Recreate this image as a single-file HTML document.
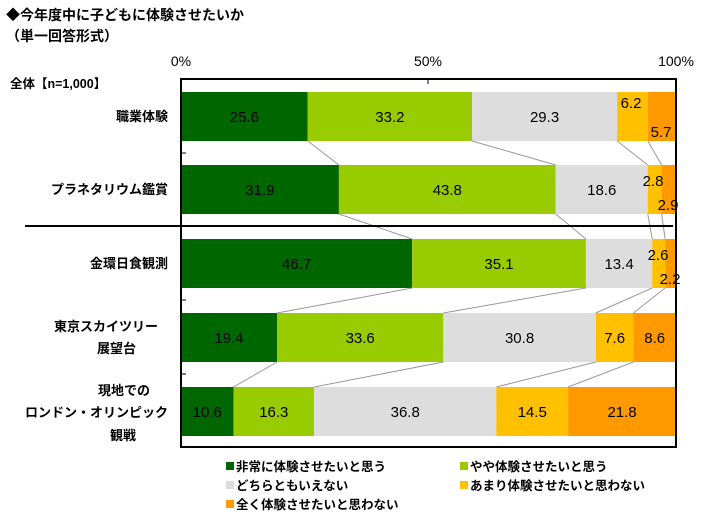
<!DOCTYPE html>
<html><head><meta charset="utf-8"><style>
body{margin:0;background:#fff;}
svg{display:block;}
text{font-family:"Liberation Sans","Noto Sans CJK JP",sans-serif;}
.t{font-size:14px;font-weight:bold;}
.v{font-size:15px;text-anchor:middle;fill:#000;}
.c{font-size:13px;font-weight:bold;text-anchor:end;}
.l{font-size:12.5px;font-weight:bold;}
</style></head><body>
<svg width="712" height="528" viewBox="0 0 712 528" xmlns="http://www.w3.org/2000/svg">
<text class="t" x="6" y="20">◆今年度中に子どもに体験させたいか</text>
<text class="t" x="6" y="41">（単一回答形式）</text>
<text x="181" y="66" font-size="14" text-anchor="middle">0%</text>
<text x="428" y="66" font-size="14" text-anchor="middle">50%</text>
<text x="676" y="66" font-size="14" text-anchor="middle">100%</text>
<text class="l" x="10" y="88" font-size="13">全体【n=1,000】</text>
<g id="bars"></g>
<rect x="181" y="79" width="495" height="368" fill="none" stroke="#000" stroke-width="2"/>
<line x1="428" y1="79" x2="428" y2="84" stroke="#000"/>
<line x1="181" y1="153" x2="186" y2="153" stroke="#000"/>
<line x1="181" y1="300" x2="186" y2="300" stroke="#000"/>
<line x1="181" y1="374" x2="186" y2="374" stroke="#000"/>
<line x1="25" y1="226" x2="673" y2="226" stroke="#000" stroke-width="2"/>
<text class="c" x="168" y="121">職業体験</text>
<text class="c" x="168" y="194">プラネタリウム鑑賞</text>
<text class="c" x="168" y="268">金環日食観測</text>
<text class="c" x="158" y="331">東京スカイツリー</text>
<text class="c" x="136" y="353">展望台</text>
<text class="c" x="150" y="395">現地での</text>
<text class="c" x="168" y="417">ロンドン・オリンピック</text>
<text class="c" x="136" y="440">観戦</text>
<rect x="226" y="462" width="8" height="8" fill="#006600"/><text class="l" x="236" y="471">非常に体験させたいと思う</text>
<rect x="460" y="462" width="8" height="8" fill="#99cc00"/><text class="l" x="470" y="471">やや体験させたいと思う</text>
<rect x="226" y="481" width="8" height="8" fill="#dddddd"/><text class="l" x="236" y="490">どちらともいえない</text>
<rect x="460" y="481" width="8" height="8" fill="#ffc000"/><text class="l" x="470" y="490">あまり体験させたいと思わない</text>
<rect x="226" y="500" width="8" height="8" fill="#ff9900"/><text class="l" x="236" y="509">全く体験させたいと思わない</text>
</svg>
<script>
(function(){
var data=[[25.6,33.2,29.3,6.2,5.7],[31.9,43.8,18.6,2.8,2.9],[46.7,35.1,13.4,2.6,2.2],[19.4,33.6,30.8,7.6,8.6],[10.6,16.3,36.8,14.5,21.8]];
var ys=[92,165,239,313,387],h=49,x0=181,W=495;
var col=["#006600","#99cc00","#dddddd","#ffc000","#ff9900"];
var g=document.getElementById("bars"),s="";
var bounds=[];
data.forEach(function(r,i){var acc=0,b=[];r.forEach(function(v,j){var xa=x0+acc*W/100;acc+=v;var xb=(j==4)?x0+W:x0+acc*W/100;
s+='<rect x="'+xa+'" y="'+ys[i]+'" width="'+(xb-xa)+'" height="'+h+'" fill="'+col[j]+'"/>';b.push(xb);
if(v>5 && !(i==0&&j>=3)){s+='<text class="v" x="'+((xa+xb)/2)+'" y="'+(ys[i]+30)+'">'+v.toFixed(1)+'</text>';}
});bounds.push(b);});
for(var i=0;i<4;i++){for(var j=0;j<4;j++){s+='<line x1="'+bounds[i][j]+'" y1="'+(ys[i]+h)+'" x2="'+bounds[i+1][j]+'" y2="'+ys[i+1]+'" stroke="#999" stroke-width="1"/>';}}
var sm=[[631,108,"6.2"],[661,137,"5.7"],[653,186,"2.8"],[668,210,"2.9"],[658,260,"2.6"],[670,284,"2.2"]];
sm.forEach(function(a){s+='<text class="v" x="'+a[0]+'" y="'+a[1]+'">'+a[2]+'</text>';});
g.innerHTML=s;
})();
</script>
</body></html>
